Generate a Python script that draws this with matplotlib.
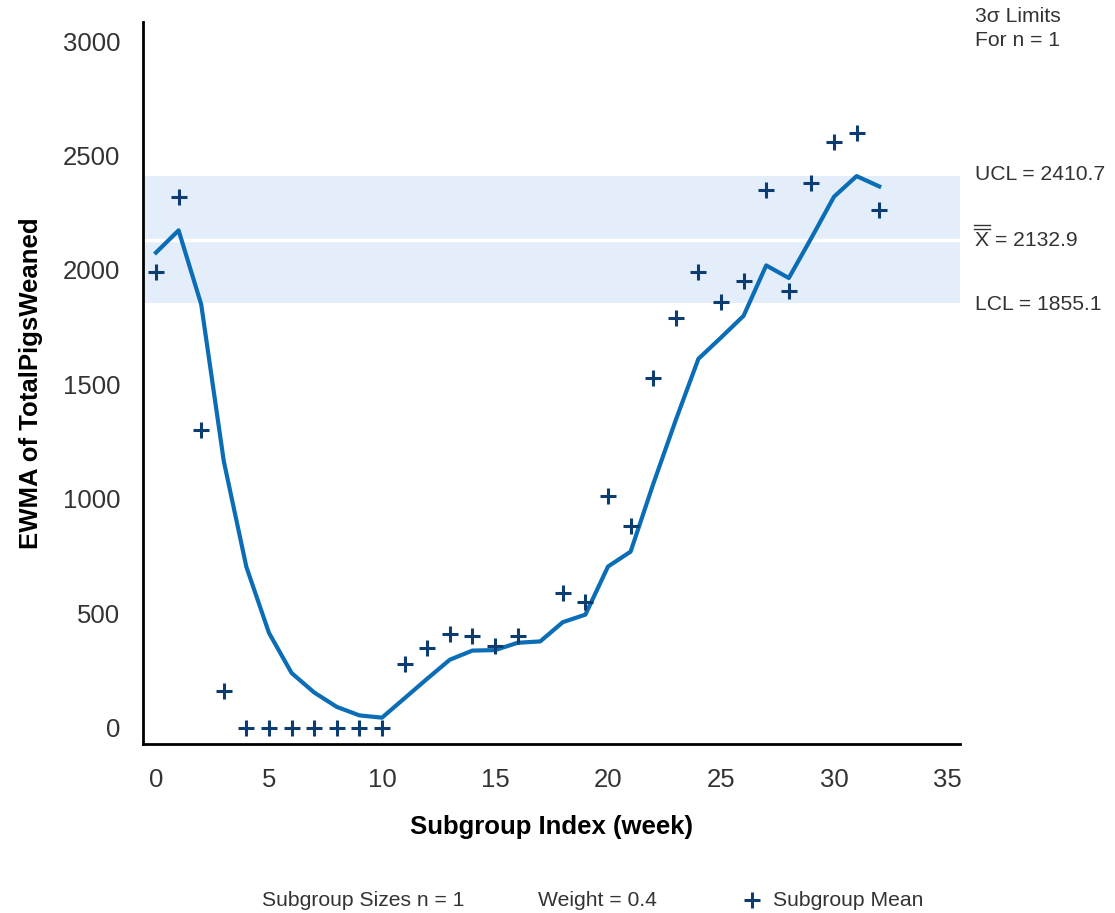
import numpy as np
import matplotlib
matplotlib.use("Agg")
import matplotlib.pyplot as plt
from matplotlib.lines import Line2D

plt.rcParams['font.family'] = ['Liberation Sans', 'DejaVu Sans']

weeks = list(range(33))
subgroup_mean = [1990, 2320, 1300, 160, 0, 0, 0, 0, 0, 0, 0, 280, 350, 410, 400, 360,
                 400, np.nan, 590, 550, 1015, 880, 1530, 1790, 1990, 1860, 1950, 2350,
                 1910, 2380, 2560, 2600, 2260]
ewma = [2076, 2173, 1850, 1165, 703, 415, 240, 155, 92, 55, 45, 130, 215, 298, 338, 340,
        372, 378, 462, 495, 705, 770, 1065, 1345, 1612, 1705, 1800, 2020, 1965, 2140,
        2320, 2410, 2365]
ucl, center, lcl = 2410.7, 2132.9, 1855.1
xticks = [0, 5, 10, 15, 20, 25, 30, 35]
yticks = [0, 500, 1000, 1500, 2000, 2500, 3000]

W, H = 1115, 913
fig = plt.figure(figsize=(W / 100, H / 100), dpi=100)
ax = fig.add_axes([143 / W, 1 - 744 / H, (960 - 143) / W, (744 - 22) / H])

ax.axhspan(lcl, ucl, color='#e3eefa', lw=0, zorder=0)
ax.axhline(center, color='white', lw=2.5, zorder=1)

ax.plot(weeks, ewma, color='#0a6db5', lw=3, zorder=3, solid_joinstyle='round')
ax.plot(weeks, subgroup_mean, ls='none', marker='+', ms=12, mew=2.2,
        color='#0d3c70', zorder=4)

tc = '#333333'
ax.set_xlim(-0.575, 35.575)
ax.set_ylim(-70, 3083)
ax.set_xticks(xticks)
ax.set_yticks(yticks)
ax.tick_params(length=0, labelsize=18.5, labelcolor=tc)
ax.tick_params(axis='x', pad=17)
ax.tick_params(axis='y', pad=16.5)
for s in ['top', 'right']:
    ax.spines[s].set_visible(False)
for s in ['left', 'bottom']:
    ax.spines[s].set_linewidth(2)
    ax.spines[s].set_color('black')

ax.set_xlabel('Subgroup Index (week)', fontsize=18.5, fontweight='bold', labelpad=17)
ax.set_ylabel('EWMA of TotalPigsWeaned', fontsize=18.5, fontweight='bold', labelpad=14)

fs = 15.2
fig.text(975 / W, 1 - 16 / H, '3σ Limits', fontsize=fs, color=tc, va='center', ha='left')
fig.text(975 / W, 1 - 41 / H, 'For n = 1', fontsize=fs, color=tc, va='center', ha='left')
fig.text(975 / W, 1 - 174 / H, f'UCL = {ucl}', fontsize=fs, color=tc, va='center', ha='left')
fig.text(975 / W, 1 - 304 / H, f'LCL = {lcl}', fontsize=fs, color=tc, va='center', ha='left')
fig.text(975 / W, 1 - 240 / H, f'X = {center}', fontsize=fs, color=tc, va='center', ha='left')
for yy in (225, 229):
    fig.add_artist(Line2D([974 / W, 990 / W], [1 - yy / H, 1 - yy / H], color=tc, lw=1,
                          transform=fig.transFigure))

ly = 1 - 900 / H
fig.text(262 / W, ly, 'Subgroup Sizes n = 1', fontsize=fs, color=tc, va='center', ha='left')
fig.text(538 / W, ly, 'Weight = 0.4', fontsize=fs, color=tc, va='center', ha='left')
fig.add_artist(Line2D([752 / W], [ly], marker='+', ms=12, mew=2.2, color='#0d3c70',
                      transform=fig.transFigure))
fig.text(773 / W, ly, 'Subgroup Mean', fontsize=fs, color=tc, va='center', ha='left')

fig.savefig('out.png', dpi=100)
